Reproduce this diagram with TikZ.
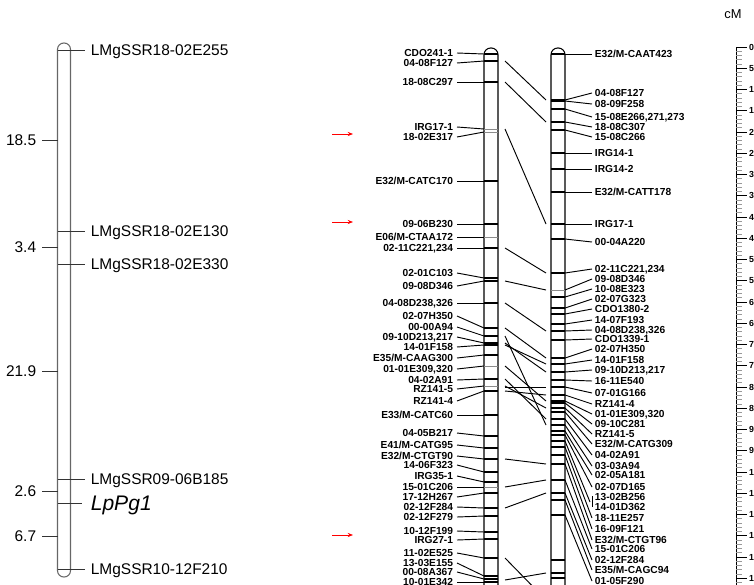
\documentclass[tikz,border=0pt]{standalone}
\usepackage{fontspec}
\setmainfont{Liberation Sans}
\usetikzlibrary{arrows.meta,positioning}
\tikzset{
  greychrom/.style={draw=black!60,line width=0.9pt,rounded corners=0.19cm},
  chrombox/.style={draw=black,line width=0.9pt,rounded corners=0.2cm},
  mkline/.style={line width=0.9pt},
  thinmk/.style={line width=0.4pt,color=black!45},
  lnk/.style={line width=0.8pt},
  ssrline/.style={line width=0.6pt,color=black!80},
  ssrlbl/.style={anchor=west,inner sep=0pt,outer xsep=5pt,text depth=0pt,font=\fontsize{13.2}{14}\selectfont},
  cmlbl/.style={anchor=east,inner sep=0pt,outer xsep=5pt,text depth=0pt,font=\fontsize{13.2}{14}\selectfont},
  genelbl/.style={anchor=west,inner sep=0pt,outer xsep=7.5pt,text depth=0pt,font=\fontsize{18}{20}\selectfont\itshape},
  lbla/.style={anchor=east,inner sep=0pt,outer xsep=3.4pt,text depth=0pt,font=\fontsize{8.7}{8}\selectfont\bfseries},
  lblb/.style={anchor=west,inner sep=0pt,outer xsep=2.5pt,text depth=0pt,font=\fontsize{8.7}{8}\selectfont\bfseries},
  scalelbl/.style={anchor=west,inner sep=0pt,font=\fontsize{7.5}{7.5}\selectfont\bfseries},
  redarr/.style={-{Stealth[length=4.5pt,width=3.5pt]},color=red,line width=0.6pt}
}

\begin{document}
\begin{tikzpicture}[x=0.03cm,y=-0.03cm]
  \useasboundingbox (0,0) rectangle (754,584);
  \clip (0,0) rectangle (754,584);

  % LMgSSR group
  \draw[greychrom] (57.5,43) rectangle (70.5,577);
  \foreach \y/\txt [count=\i] in {50/LMgSSR18-02E255,231/LMgSSR18-02E130,264/LMgSSR18-02E330,
      479/LMgSSR09-06B185,569/LMgSSR10-12F210}{
    \node[ssrlbl] (ssr\i) at (85,\y) {\txt};
    \coordinate (ssrm\i) at (57.5,\y);
    \draw[ssrline] (ssrm\i) -- (ssr\i.west);
  }
  \foreach \y/\v [count=\i] in {140/18.5,247/3.4,371/21.9,491/2.6,536/6.7}{
    \node[cmlbl] (dist\i) at (42,\y) {\v};
    \coordinate (distm\i) at (57.5,\y);
    \draw[ssrline] (dist\i.east) -- (distm\i);
  }
  \node[genelbl] (gene) at (82,503) {LpPg1};
  \coordinate (genem) at (57.5,503);
  \draw[ssrline] (genem) -- (gene.west);

  % two chromosomes
  \draw[chrombox] (484,48) rectangle (498,640);
  \draw[chrombox] (551,48) rectangle (565,640);

  % left chromosome markers
  \foreach \ly/\my/\mk/\txt [count=\i] in {53/54/mkline/CDO241-1,63/61/mkline/04-08F127,
      82/82/mkline/18-08C297,127/129/thinmk/IRG17-1,137/132/thinmk/18-02E317,
      181/181/mkline/{E32/M-CATC170},224/224/mkline/09-06B230,237/237/thinmk/{E06/M-CTAA172},
      248/248/mkline/{02-11C221,234},273/278/mkline/02-01C103,286/281/mkline/09-08D346,
      303/303/mkline/{04-08D238,326},316/328/mkline/02-07H350,327/336/mkline/00-00A94,
      337/343/mkline/{09-10D213,217},347/345/mkline/14-01F158,358/355/mkline/{E35/M-CAAG300},
      369/366/thinmk/{01-01E309,320},380/379/mkline/04-02A91,389/386/thinmk/RZ141-5,
      401/391/mkline/RZ141-4,415/415/mkline/{E33/M-CATC60},433/436/mkline/04-05B217,
      445/448/mkline/{E41/M-CATG95},456/459/mkline/{E32/M-CTGT90},465/472/mkline/14-06F323,
      476/482/mkline/IRG35-1,487/487/thinmk/15-01C206,497/493/mkline/17-12H267,
      507/508/mkline/02-12F284,517/516/mkline/02-12F279,531/532/mkline/10-12F199,
      540/539/mkline/IRG27-1,553/558/mkline/11-02E525,563/576/mkline/13-03E155,
      572/579/mkline/00-08A367,582/582/mkline/10-01E342}{
    \node[lbla] (la\i) at (457,\ly) {\txt};
    \coordinate (ma\i) at (484,\my);
    \draw[\mk] (ma\i) -- ++(14,0);
    \draw[lnk] (la\i.east) -- (ma\i);
  }

  % right chromosome markers
  \foreach \ly/\my/\mk/\txt [count=\i] in {54/54/mkline/{E32/M-CAAT423},93/100/mkline/04-08F127,
      104/101/mkline/08-09F258,117/109/mkline/{15-08E266,271,273},127/122/mkline/18-08C307,
      137/130/mkline/15-08C266,153/153/mkline/IRG14-1,169/169/mkline/IRG14-2,
      192/192/mkline/{E32/M-CATT178},224/224/mkline/IRG17-1,242/239/mkline/00-04A220,
      269/273/mkline/{02-11C221,234},279/290/thinmk/09-08D346,289/297/mkline/10-08E323,
      299/308/mkline/02-07G323,309/314/mkline/CDO1380-2,320/324/mkline/14-07F193,
      330/331/mkline/{04-08D238,326},339/340/mkline/CDO1339-1,349/358/mkline/02-07H350,
      360/364/mkline/14-01F158,370/372/mkline/{09-10D213,217},381/380/mkline/16-11E540,
      393/387/mkline/07-01G166,404/395/mkline/RZ141-4,414/401/mkline/{01-01E309,320},
      424/403/mkline/09-10C281,434/408/mkline/RZ141-5,444/412/mkline/{E32/M-CATG309},
      455/419/mkline/04-02A91,466/425/mkline/03-03A94,475/431/mkline/02-05A181,
      487/435/mkline/02-07D165,518/447/mkline/18-11E257,529/455/mkline/16-09F121,
      540/464/mkline/{E32/M-CTGT96},549/480/mkline/15-01C206,560/493/mkline/02-12F284,
      570/500/mkline/{E35/M-CAGC94},581/515/mkline/01-05F290}{
    \node[lblb] (lb\i) at (592,\ly) {\txt};
    \coordinate (mb\i) at (565,\my);
    \draw[\mk] (mb\i) -- ++(-14,0);
    \draw[lnk] (mb\i) -- (lb\i.west);
  }
  \node[lblb] (pairtop) at (592,497) {13-02B256};
  \node[lblb] (pairbot) at (592,507) {14-01D362};
  \coordinate (pairm) at (565,441);
  \coordinate (pairj) at (590,502);
  \draw[mkline] (pairm) -- ++(-14,0);
  \draw[lnk] (pairm) -- (pairj);
  \draw[lnk] (pairtop.west) ++(0,-1) -- (pairbot.west);
  \foreach \my in {560,573,578}{
    \draw[mkline] (551,\my) -- (565,\my);
  }

  % links between the two chromosomes
  \foreach \ay/\by [count=\i] in {61/100,82/122,129/224,248/273,281/290,303/331,328/358,
      336/425,343/372,345/364,366/401,379/419,386/408,387/387,391/395,459/464,487/480,
      508/493,558/600,580/573}{
    \coordinate (ca\i) at (505,\ay);
    \coordinate (cb\i) at (546,\by);
    \draw[lnk] (ca\i) -- (cb\i);
  }

  % red arrows
  \foreach \y [count=\i] in {134,222,535}{
    \coordinate (rs\i) at (332,\y);
    \coordinate (re\i) at (353,\y);
    \draw[redarr] (rs\i) -- (re\i);
  }

  % cM scale
  \node[font=\fontsize{11}{12}\selectfont] (cmunit) at (733,14) {cM};
  \draw[line width=0.8pt] (736,47) -- (736,600);
  \foreach \c in {0,...,130}{
    \pgfmathsetmacro{\yy}{47+4.25*\c}
    \draw[line width=0.8pt,color=black!40] (736,\yy) -- (742,\yy);
  }
  \foreach \c in {0,5,...,125}{
    \pgfmathsetmacro{\yy}{47+4.25*\c}
    \draw[line width=0.8pt] (736,\yy) -- (747,\yy);
    \node[scalelbl] (sc\c) at (749,\yy) {\c};
  }
\end{tikzpicture}
\end{document}
